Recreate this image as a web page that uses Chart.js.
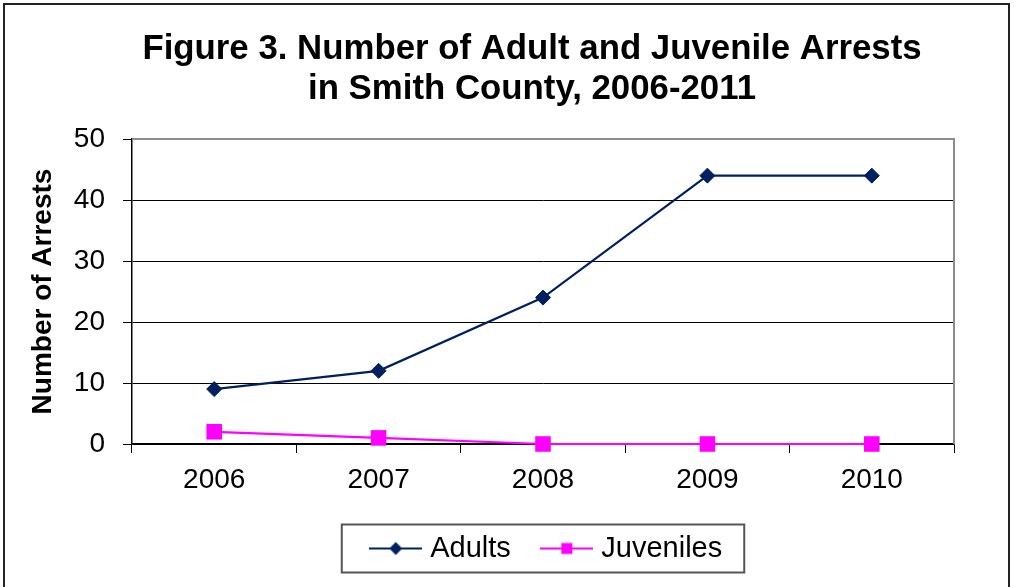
<!DOCTYPE html>
<html>
<head>
<meta charset="utf-8">
<title>Figure 3</title>
<script src="https://cdn.jsdelivr.net/npm/chart.js@4.4.1/dist/chart.umd.min.js"></script>
<style>
  html, body { margin: 0; padding: 0; background: #fff; }
  #wrap { width: 1014px; height: 587px; }
</style>
</head>
<body>
<div id="wrap"><canvas id="arrestChart" width="1014" height="587"></canvas></div>
<script>
const years = ["2006", "2007", "2008", "2009", "2010"];
const adults = [9, 12, 24, 44, 44];
const juveniles = [2, 1, 0, 0, 0];
const yTicks = [0, 10, 20, 30, 40, 50];

const FONT = "'Liberation Sans', Arial, sans-serif";
const NAVY = "#002060";
const MAGENTA = "#ff00ff";

Chart.defaults.color = "#000";
Chart.defaults.font.family = FONT;

// little legend icon: line with the marker in the middle
function legendIcon(shape, color) {
  const c = document.createElement("canvas");
  c.width = 53;
  c.height = 20;
  const g = c.getContext("2d");
  g.strokeStyle = color;
  g.lineWidth = 2;
  g.beginPath();
  g.moveTo(0, 10);
  g.lineTo(53, 10);
  g.stroke();
  g.fillStyle = color;
  g.beginPath();
  if (shape === "diamond") {
    g.moveTo(26.5, 3.5);
    g.lineTo(33, 10);
    g.lineTo(26.5, 16.5);
    g.lineTo(20, 10);
    g.closePath();
  } else {
    g.rect(21, 4.5, 11, 11);
  }
  g.fill();
  return c;
}
const icons = [legendIcon("diamond", NAVY), legendIcon("square", MAGENTA)];

// frame round the whole chart, grey plot border, box round the legend
const framePlugin = {
  id: "frame",
  afterLayout(chart) {
    // excel centred the title a bit left of the plot area, legend a bit right
    if (chart.titleBlock) {
      chart.titleBlock.left -= 22;
      chart.titleBlock.width += 22;
    }
    if (chart.legend) {
      chart.legend.left += 12;
      chart.legend.width -= 12;
    }
  },
  beforeDraw(chart) {
    const ctx = chart.ctx;
    ctx.save();
    ctx.fillStyle = "#fff";
    ctx.fillRect(0, 0, chart.width, chart.height);
    ctx.strokeStyle = "#222";
    ctx.lineWidth = 2;
    ctx.strokeRect(4, 4, 1005, 620);
    ctx.restore();
  },
  beforeDatasetsDraw(chart) {
    const a = chart.chartArea;
    const ctx = chart.ctx;
    ctx.save();
    ctx.strokeStyle = "#8c8c8c";
    ctx.lineWidth = 2;
    ctx.beginPath();
    ctx.moveTo(a.left, a.top);
    ctx.lineTo(a.right, a.top);
    ctx.lineTo(a.right, a.bottom);
    ctx.stroke();
    ctx.restore();
  },
  afterDraw(chart) {
    const lg = chart.legend;
    const hb = lg.legendHitBoxes;
    if (!hb || !hb.length) return;
    const first = hb[0], last = hb[hb.length - 1];
    const cy = first.top + first.height / 2;
    const left = first.left - 34;
    const right = last.left + last.width + 22;
    const ctx = chart.ctx;
    ctx.save();
    ctx.strokeStyle = "#555";
    ctx.lineWidth = 2;
    ctx.strokeRect(left, cy - 24, right - left, 48);
    ctx.restore();
  }
};

new Chart(document.getElementById("arrestChart"), {
  type: "line",
  data: {
    labels: years,
    datasets: [{
      label: "Adults",
      data: adults,
      borderColor: NAVY,
      backgroundColor: NAVY,
      borderWidth: 2.2,
      pointStyle: "rectRot",
      pointRadius: 7.5,
      pointBorderWidth: 1,
      tension: 0,
      fill: false,
      clip: false
    }, {
      label: "Juveniles",
      data: juveniles,
      borderColor: MAGENTA,
      backgroundColor: MAGENTA,
      borderWidth: 2.2,
      pointStyle: "rect",
      pointRadius: 11,
      pointBorderWidth: 0,
      tension: 0,
      fill: false,
      clip: false
    }]
  },
  options: {
    responsive: false,
    animation: false,
    layout: { padding: { left: 20, right: 60, top: 0, bottom: 14 } },
    scales: {
      x: {
        offset: true,
        grid: {
          offset: true,
          drawOnChartArea: false,
          color: "#000",
          tickLength: 9,
          tickColor: "#000"
        },
        border: { color: "#000", width: 1.5 },
        ticks: { font: { size: 28 }, padding: 10, color: "#000" },
        afterFit(s) { s.height = 54; }
      },
      y: {
        min: 0,
        max: 50,
        afterBuildTicks(s) { s.ticks = yTicks.map(v => ({ value: v })); },
        grid: {
          color: (c) => c.tick && c.tick.value === 50 ? "#8c8c8c" : "#000",
          lineWidth: 1,
          tickLength: 9,
          tickColor: "#000"
        },
        border: { color: "#000", width: 1.5 },
        ticks: { font: { size: 28 }, padding: 18, color: "#000" },
        title: {
          display: true,
          text: "Number of Arrests",
          font: { size: 28, weight: "bold" },
          padding: { top: 6, bottom: 0 },
          color: "#000"
        },
        afterFit(s) { s.width = 112; }
      }
    },
    plugins: {
      title: {
        display: true,
        fullSize: false,
        text: ["Figure 3. Number of Adult and Juvenile Arrests", "in Smith County, 2006-2011"],
        font: { size: 34.8, weight: "bold", lineHeight: 1.15 },
        color: "#000",
        padding: { top: 29, bottom: 30 }
      },
      legend: {
        position: "bottom",
        fullSize: false,
        labels: {
          font: { size: 29 },
          color: "#000",
          usePointStyle: true,
          pointStyleWidth: 40,
          padding: 36,
          generateLabels(chart) {
            const items = Chart.defaults.plugins.legend.labels.generateLabels(chart);
            items.forEach((it, i) => { it.pointStyle = icons[i]; });
            return items;
          }
        }
      },
      tooltip: { enabled: false }
    }
  },
  plugins: [framePlugin]
});
</script>
</body>
</html>
